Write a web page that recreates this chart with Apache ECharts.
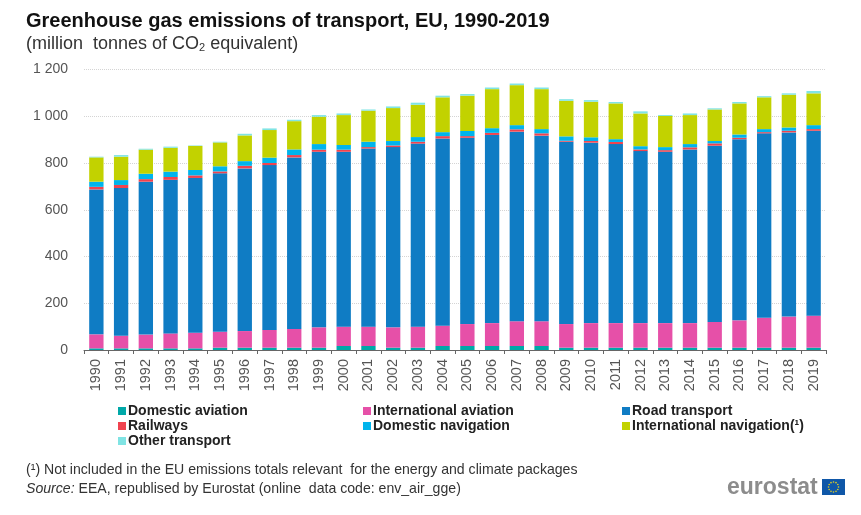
<!DOCTYPE html>
<html>
<head>
<meta charset="utf-8">
<title>Greenhouse gas emissions of transport, EU, 1990-2019</title>
<script src="https://cdn.jsdelivr.net/npm/echarts@6/dist/echarts.min.js"></script>
<style>
html,body{margin:0;padding:0;background:#fff;}
#chart{width:861px;height:515px;}
</style>
</head>
<body>
<div id="chart"></div>
<script>
var years=['1990','1991','1992','1993','1994','1995','1996','1997','1998','1999','2000','2001','2002','2003','2004','2005','2006','2007','2008','2009','2010','2011','2012','2013','2014','2015','2016','2017','2018','2019'];
var domesticAviation=[7,7,7,7,7,10,10,10,10,10,17,17,10,10,17,17,17,17,17,10,10,10,10,10,10,10,10,10,10,10];
var internationalAviation=[60,54,59,64,67,68,71,76,80,87,83,83,87,90,87,94,98,106,106,101,105,105,105,105,105,110,117,128,133,137];
var roadTransport=[620,632,654,657,662,678,696,705,734,751,748,762,771,783,801,797,805,811,794,780,772,766,736,733,743,754,775,789,788,791];
var railways=[11,13,11,12,11,8,11,9,10,9,9,6,7,8,10,7,9,10,10,4,7,9,7,7,9,10,6,5,7,7];
var domesticNavigation=[22,21,23,23,23,22,20,23,24,24,20,23,19,20,17,22,20,18,18,19,16,12,14,13,14,10,14,13,14,17];
var internationalNavigation=[104,100,103,102,103,102,110,118,121,117,128,133,141,138,149,151,167,171,171,152,152,153,140,133,124,135,133,136,140,136];
var otherTransport=[3,7,4,5,2,3,7,7,6,7,7,5,7,9,7,7,7,7,7,7,7,6,9,4,7,5,6,5,6,10];

var fontName='"Liberation Sans", Arial, sans-serif';

function barSeries(name,values,color){
    return {
        name:name,
        type:'bar',
        stack:'total',
        barWidth:'58%',
        data:values,
        itemStyle:{color:color},
        animation:false
    };
}

function legendColumn(left,names){
    return {
        left:left,
        top:399,
        orient:'vertical',
        data:names,
        icon:'rect',
        itemWidth:8,
        itemHeight:8,
        itemGap:1,
        selectedMode:false,
        textStyle:{fontFamily:fontName,fontSize:14,fontWeight:'bold',color:'#222',padding:[0,0,0,-3],lineHeight:13}
    };
}

// flag with ring of stars next to the wordmark
function logoStars(cx,cy,r){
    var out=[];
    for(var i=0;i<12;i++){
        var a=i*Math.PI/6;
        out.push({
            type:'circle',
            shape:{cx:cx+r*Math.cos(a),cy:cy+r*Math.sin(a),r:0.8},
            style:{fill:'#e6d21e'}
        });
    }
    return out;
}

var myChart=echarts.init(document.getElementById('chart'),null,{renderer:'canvas'});

var option={
    animation:false,
    backgroundColor:'#fff',
    title:[
        {
            left:21,
            top:6,
            text:'Greenhouse gas emissions of transport, EU, 1990-2019',
            textStyle:{fontFamily:fontName,fontSize:20,fontWeight:'bold',color:'#111'}
        },
        {
            left:21,
            top:30,
            text:'(million  tonnes of CO{sub|2} equivalent)',
            textStyle:{
                fontFamily:fontName,fontSize:18,fontWeight:'normal',color:'#333',
                rich:{sub:{fontFamily:fontName,fontSize:11,color:'#333',verticalAlign:'bottom',padding:[6,0,0,0]}}
            }
        }
    ],
    legend:[
        legendColumn(113,['Domestic aviation','Railways','Other transport']),
        legendColumn(358,['International aviation','Domestic navigation']),
        legendColumn(617,['Road transport','International navigation(¹)'])
    ],
    grid:{left:84,right:35,top:69.5,bottom:165},
    xAxis:{
        type:'category',
        data:years,
        axisLine:{lineStyle:{color:'#666'}},
        axisTick:{show:true,length:4,lineStyle:{color:'#666'}},
        axisLabel:{rotate:90,interval:0,margin:9,fontFamily:fontName,fontSize:14.5,color:'#555'}
    },
    yAxis:{
        type:'value',
        min:0,
        max:1200,
        interval:200,
        axisLine:{show:false},
        axisTick:{show:false},
        splitLine:{lineStyle:{color:'#d4d4d4',type:'dotted'}},
        axisLabel:{
            margin:16,
            fontFamily:fontName,
            fontSize:14,
            color:'#555',
            formatter:function(v){
                return v>=1000?String(v).replace(/(\d)(\d{3})$/,'$1 $2'):String(v);
            }
        }
    },
    series:[
        barSeries('Domestic aviation',domesticAviation,'#00a8a8'),
        barSeries('International aviation',internationalAviation,'#e650a8'),
        barSeries('Road transport',roadTransport,'#0f7cc4'),
        barSeries('Railways',railways,'#f0434f'),
        barSeries('Domestic navigation',domesticNavigation,'#00b4ec'),
        barSeries('International navigation(¹)',internationalNavigation,'#c2d200'),
        barSeries('Other transport',otherTransport,'#80e4e4')
    ],
    graphic:[
        {
            type:'text',
            left:26,
            top:463,
            style:{text:'(¹) Not included in the EU emissions totals relevant  for the energy and climate packages',font:'14.1px '+fontName,fill:'#333'}
        },
        {
            type:'text',
            left:26,
            top:482,
            style:{
                text:'{i|Source:} EEA, republised by Eurostat (online  data code: env_air_gge)',
                font:'14.1px '+fontName,
                fill:'#333',
                rich:{i:{font:'italic 14.1px '+fontName,fill:'#333'}}
            }
        },
        {
            type:'text',
            left:727,
            top:476,
            style:{text:'eurostat',font:'bold 23px '+fontName,fill:'#8c8c8c'}
        },
        {
            type:'group',
            left:822,
            top:479,
            children:[
                {type:'rect',shape:{x:0,y:0,width:23,height:16},style:{fill:'#0f57a8'}}
            ].concat(logoStars(11.5,8,5))
        }
    ]
};

myChart.setOption(option);
</script>
</body>
</html>
